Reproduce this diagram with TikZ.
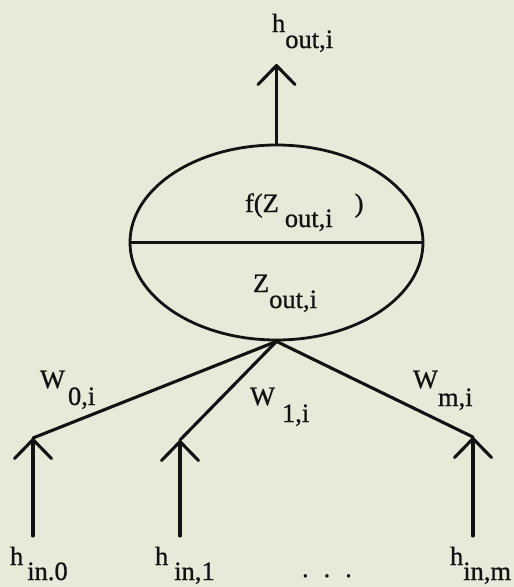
\documentclass[tikz,border=0pt]{standalone}
\usepackage{fontspec}
\setmainfont{Liberation Serif}
\newfontfamily\scanfont{Liberation Serif}[FakeBold=0.8]
\usetikzlibrary{arrows.meta,shapes.geometric}
\definecolor{paper}{RGB}{229,235,216}
\definecolor{ink}{RGB}{18,18,18}
\newcommand{\sublab}[4]{#1\hspace{#2}\raisebox{-#3}{#4}}
\begin{document}
\begin{tikzpicture}[x=1pt,y=-1pt,
  lbl/.style={inner sep=0pt,outer sep=0pt,anchor=base west,text=ink,
    font=\scanfont\fontsize{26.5}{30}\selectfont},
  wire/.style={draw=ink,line width=3.1pt,line cap=round,line join=round},
  arr/.style={wire,-{Straight Barb[length=19pt,width=37pt,line cap=round,line join=round]}},
  neuronbox/.style={draw=ink,line width=2.8pt,ellipse,inner sep=0pt,
    minimum width=293pt,minimum height=195pt}]
\useasboundingbox (0,0) rectangle (514,587);
\fill[paper] (0,0) rectangle (514,587);

% neuron
\node[neuronbox] (neuron) at (276.5,242.5) {};
\draw[draw=ink,line width=2.8pt] (neuron.west) -- (neuron.east);
\node[lbl] (fz) at (245,212) {\sublab{f(Z}{6pt}{15pt}{out,i}\hspace{22pt})};
\node[lbl] (zz) at (253,292) {\sublab{Z}{0pt}{16pt}{out,i}};

% output
\coordinate (outtip) at (276.5,64);
\draw[arr] (neuron.north) -- (outtip);
\node[lbl] (hout) at (272,32) {\sublab{h}{0pt}{16pt}{out,i}};

% inputs
\coordinate (t0) at (33,438);
\coordinate (b0) at (33,536);
\coordinate (t1) at (180,440);
\coordinate (b1) at (180,536);
\coordinate (tm) at (473,437);
\coordinate (bm) at (473,536);
\draw[arr] (b0) -- (t0);
\draw[arr] (b1) -- (t1);
\draw[arr] (bm) -- (tm);
\draw[wire] (neuron.south) -- (t0);
\draw[wire] (neuron.south) -- (t1);
\draw[wire] (neuron.south) -- (tm);

% weights
\node[lbl] (w0) at (40,388) {\sublab{W}{3pt}{17pt}{0,i}};
\node[lbl] (w1) at (250,405) {\sublab{W}{7pt}{17pt}{1,i}};
\node[lbl] (wm) at (413,388) {\sublab{W}{0pt}{18pt}{m,i}};

% input labels
\node[lbl] (hin0) at (10,565) {\sublab{h}{4pt}{15pt}{in.0}};
\node[lbl] (hin1) at (155,565) {\sublab{h}{6pt}{15pt}{in,1}};
\node[lbl] (dots) at (302,577) {.\hspace{15pt}.\hspace{15pt}.};
\node[lbl] (hinm) at (450,565) {\sublab{h}{0pt}{15pt}{in,m}};
\end{tikzpicture}
\end{document}
